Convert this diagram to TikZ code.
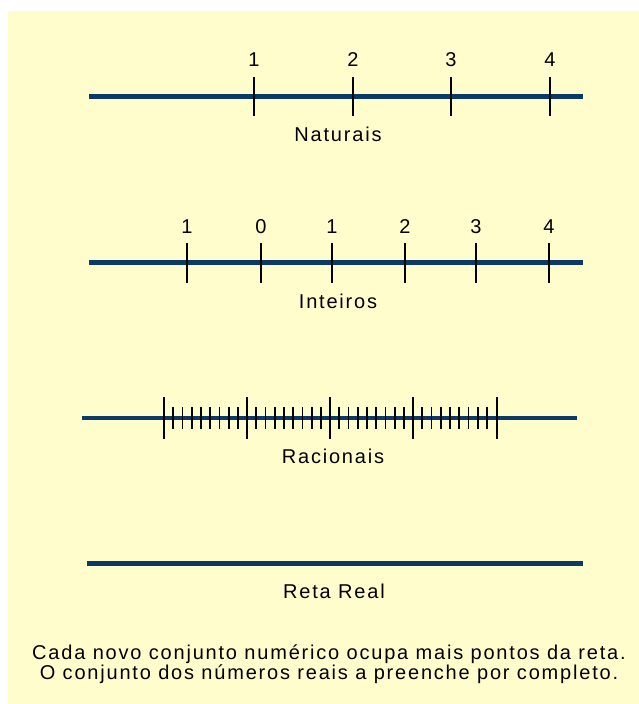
\documentclass[tikz,border=0pt]{standalone}
\usepackage{fontspec}
\setmainfont{Liberation Sans}[LetterSpace=9]
\definecolor{bgyellow}{HTML}{FFFDCC}
\definecolor{linenavy}{HTML}{0B3A68}
\begin{document}
\begin{tikzpicture}[x=1pt,y=-1pt,
  axis/.style={draw=linenavy,line width=4.2pt},
  tickmark/.style={draw=black,line width=1.8pt},
  minortick/.style={draw=black,line width=1.8pt},
  lbl/.style={anchor=base,inner sep=0pt,font=\fontsize{20}{21}\selectfont},
]
\useasboundingbox (0,0) rectangle (639,704);
\fill[bgyellow] (8,11) rectangle (639,704);

% Naturais
\coordinate (n0) at (89,96.5);
\coordinate (n1) at (583,96.5);
\draw[axis] (n0) -- (n1);
\foreach \x/\t [count=\i] in {254/1,353/2,451/3,550/4}{
  \draw[tickmark] (\x,77) -- (\x,116);
  \node[lbl] (nl\i) at (\x,66) {\t};
}
\node[lbl] (naturais) at (338,141) {Naturais};

% Inteiros
\coordinate (z0) at (89,262.5);
\coordinate (z1) at (583,262.5);
\draw[axis] (z0) -- (z1);
\foreach \x/\t [count=\i] in {187/1,261/0,332/1,405/2,476/3,549/4}{
  \draw[tickmark] (\x,243) -- (\x,283);
  \node[lbl] (zl\i) at (\x,233) {\t};
}
\node[lbl] (inteiros) at (338,308) {Inteiros};

% Racionais
\coordinate (q0) at (82,418);
\coordinate (q1) at (577,418);
\draw[axis] (q0) -- (q1);
\foreach \x in {164,247,330,413,497}{
  \draw[tickmark] (\x,397) -- (\x,439);
}
\foreach \s in {164,247,330,413}{
  \foreach \k in {1,...,8}{
    \draw[minortick] ({\s+\k*83.25/9},407) -- ({\s+\k*83.25/9},429);
  }
}
\node[lbl] (racionais) at (333,463) {Racionais};

% Reta Real
\coordinate (r0) at (87,563.5);
\coordinate (r1) at (583,563.5);
\draw[axis] (r0) -- (r1);
\node[lbl] (retareal) at (334,598) {Reta Real};

% Caption
\node[lbl] (cap1) at (329,659) {Cada novo conjunto numérico ocupa mais pontos da reta.};
\node[lbl] (cap2) at (329,679) {O conjunto dos números reais a preenche por completo.};
\end{tikzpicture}
\end{document}
